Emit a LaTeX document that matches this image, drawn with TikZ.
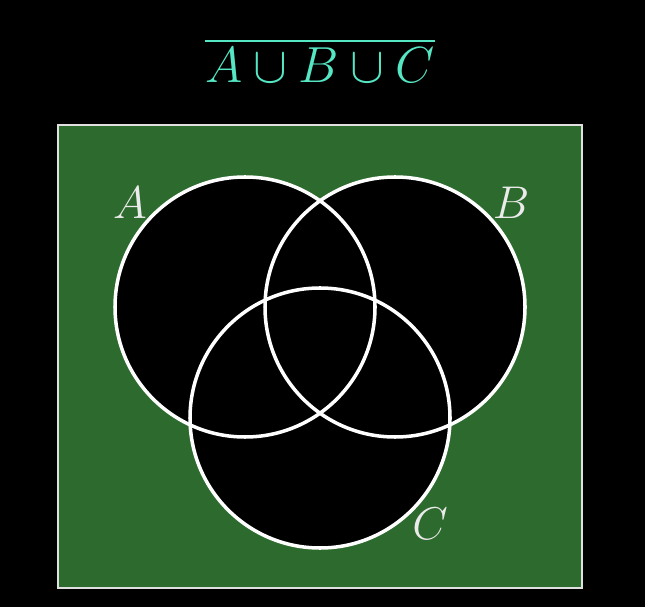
\documentclass[tikz,border=0pt]{standalone}
\usepackage{amsmath,amssymb}
\usepackage{tikz}
\usetikzlibrary{positioning}
\definecolor{boardgreen}{HTML}{2D6A2E}
\definecolor{titleteal}{HTML}{55E6C4}

\begin{document}
\begin{tikzpicture}[x=0.2mm, y=0.2mm,
  setline/.style={draw=white, line width=2pt},
  frame/.style={draw=white!88!black, line width=1.4pt, fill=boardgreen},
  setlabel/.style={font=\fontsize{24.88}{30}\selectfont, text=white!92!black, scale=1.05},
  title/.style={font=\fontsize{24.88}{30}\selectfont, text=titleteal, scale=1.16}
]
\fill[black] (0,0) rectangle (645,607);
\useasboundingbox (0,0) rectangle (645,607);
\draw[frame] (58,19) rectangle (582,482);
% the three sets
\coordinate (ca) at (245,300);
\coordinate (cb) at (395,300);
\coordinate (cc) at (320,189);
\foreach \c in {ca,cb,cc}{
  \fill[black] (\c) circle (130);
}
\foreach \c in {ca,cb,cc}{
  \draw[setline] (\c) circle (130);
}
\node[setlabel] (la) at (130,404) {$A$};
\node[setlabel] (lb) at (511,404) {$B$};
\node[setlabel] (lc) at (430,83) {$C$};

\node[title] (head) at (320,547) {$\overline{A\cup B\cup C}$};
\end{tikzpicture}
\end{document}
